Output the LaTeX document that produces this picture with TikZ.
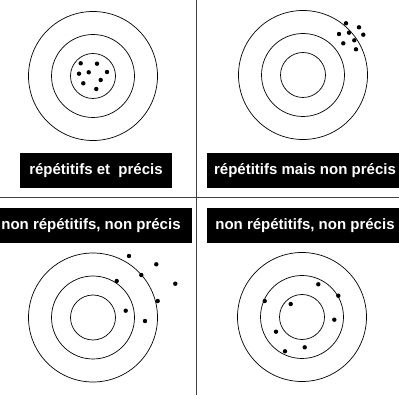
\documentclass[tikz,border=0pt]{standalone}
\usepackage{fontspec}
\setmainfont{Liberation Sans}
\usepackage{tikz}
\usetikzlibrary{positioning}

\begin{document}
\begin{tikzpicture}[x=1pt, y=-1pt,
    ring/.style={line width=0.7pt},
    hit/.style={fill=black},
    divider/.style={draw=black!75, line width=1pt},
    labelbox/.style={fill=black, text=white, inner sep=0pt,
        minimum height=35pt, font=\fontsize{15}{18}\selectfont\bfseries}]
    \useasboundingbox (0,0) rectangle (399,395);
    \clip (0,0) rectangle (399,395);
    % =================================================================
    % 1. Séparation en quatre cases
    % =================================================================
    \draw[divider] (196,0) -- (196,395);
    \draw[divider] (0,197.5) -- (399,197.5);

    % =================================================================
    % 2. Les quatre cibles (trois anneaux chacune)
    % =================================================================
    \foreach \cx/\cy in {93/76, 303/75, 93/317.5, 302/317}
        \foreach \r in {64.5, 41.5, 22.5}
            \draw[ring] (\cx,\cy) circle (\r pt);

    % Impacts : répétitifs et précis
    \foreach \px/\py in {80.7/63.3, 97/63.7, 79/73.7, 88.7/72.3, 107/72,
                         100.7/80, 83.3/83.3, 96.3/89}
        \fill[hit] (\px,\py) circle (2.2pt);
    % Impacts : répétitifs mais non précis
    \foreach \px/\py in {346/23.3, 359/27.3, 339/34, 349/32.7, 363.3/34.7,
                         354.3/40.3, 343.3/43.3, 356/49.3}
        \fill[hit] (\px,\py) circle (2.2pt);
    % Impacts : non répétitifs (à gauche)
    \foreach \px/\py in {129/256, 156.3/264.3, 141.3/275, 116.7/281,
                         175.3/283.7, 157.7/301, 125.7/310.7, 145/321}
        \fill[hit] (\px,\py) circle (2.2pt);
    % Impacts : non répétitifs (à droite)
    \foreach \px/\py in {318.3/284.3, 338.3/295.7, 264.7/301, 290.7/304,
                         334.3/319.7, 276/331.7, 304.7/347.3, 285/351.3}
        \fill[hit] (\px,\py) circle (2.2pt);

    % =================================================================
    % 3. Étiquettes
    % =================================================================
    \node[labelbox, minimum width=152pt] (lblRP) at (96,170.5)
        {répétitifs et\ \ précis};
    \node[labelbox, minimum width=196pt] (lblRNP) at (305,170.5)
        {répétitifs mais non précis};
    \node[labelbox, minimum width=202pt] (lblNRL) at (91,226)
        {non répétitifs, non précis};
    \node[labelbox, minimum width=196pt] (lblNRR) at (305,226)
        {non répétitifs, non précis};
\end{tikzpicture}
\end{document}
